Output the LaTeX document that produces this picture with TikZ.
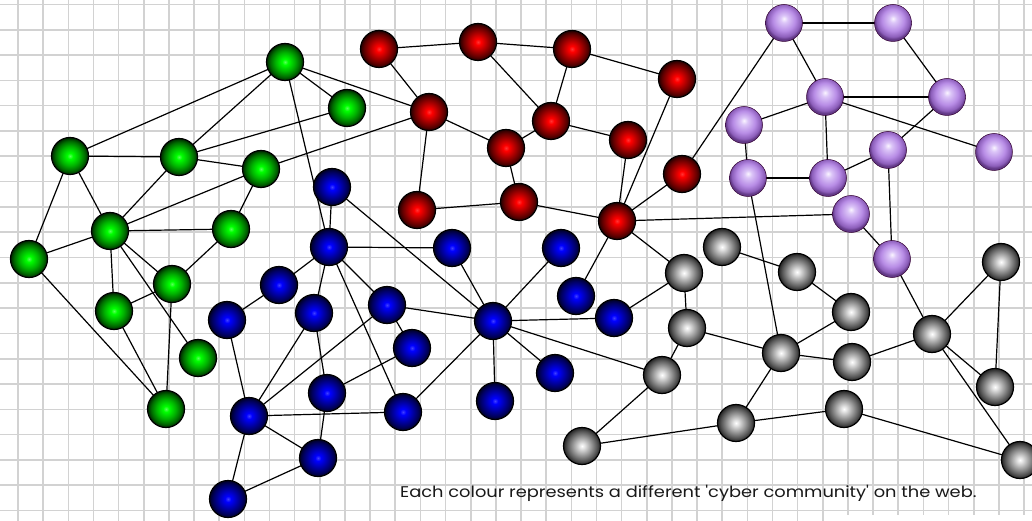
\documentclass[tikz,border=0pt]{standalone}
\usepackage{fontspec}
\usepackage{graphicx}
\newfontfamily\capfont{Poppins}[Ligatures=TeXOff]
\definecolor{gridc}{RGB}{210,210,210}
\pgfdeclareradialshading{gball}{\pgfpoint{0bp}{0bp}}{rgb(0bp)=(0.35,1,0.35);rgb(4bp)=(0,1,0);rgb(13bp)=(0,0.7,0);rgb(20bp)=(0,0.42,0);rgb(25bp)=(0,0.15,0);rgb(50bp)=(0,0.15,0)}
\pgfdeclareradialshading{rball}{\pgfpoint{0bp}{0bp}}{rgb(0bp)=(1,0.2,0.2);rgb(4bp)=(1,0,0);rgb(13bp)=(0.65,0,0);rgb(20bp)=(0.38,0,0);rgb(25bp)=(0.14,0,0);rgb(50bp)=(0.14,0,0)}
\pgfdeclareradialshading{bball}{\pgfpoint{0bp}{0bp}}{rgb(0bp)=(0.25,0.25,1);rgb(4bp)=(0,0,1);rgb(13bp)=(0,0,0.65);rgb(20bp)=(0,0,0.38);rgb(25bp)=(0,0,0.14);rgb(50bp)=(0,0,0.14)}
\pgfdeclareradialshading{yball}{\pgfpoint{0bp}{0bp}}{rgb(0bp)=(1,1,1);rgb(4bp)=(0.88,0.88,0.88);rgb(13bp)=(0.58,0.58,0.58);rgb(20bp)=(0.34,0.34,0.34);rgb(25bp)=(0.14,0.14,0.14);rgb(50bp)=(0.14,0.14,0.14)}
\pgfdeclareradialshading{pball}{\pgfpoint{0bp}{6bp}}{rgb(0bp)=(0.98,0.96,1);rgb(5bp)=(0.86,0.77,0.97);rgb(15bp)=(0.72,0.55,0.9);rgb(22bp)=(0.55,0.37,0.73);rgb(25bp)=(0.38,0.22,0.52);rgb(50bp)=(0.38,0.22,0.52)}
\pgfdeclarelayer{gridlayer}
\pgfdeclarelayer{edgelayer}
\pgfsetlayers{gridlayer,edgelayer,main}
\begin{document}
\begin{tikzpicture}[x=1pt,y=-1pt,
  ball/.style={circle,minimum size=37pt,inner sep=0pt,draw=black,line width=1.2pt},
  gn/.style={ball,shading=gball},
  rn/.style={ball,shading=rball},
  bn/.style={ball,shading=bball},
  yn/.style={ball,shading=yball},
  pn/.style={ball,shading=pball,draw=violet!40!black,line width=0.5pt},
  link/.style={draw=black,line width=1.2pt},
  gridline/.style={draw=gridc,line width=1.6pt}]
\useasboundingbox (0,0) rectangle (1032,521);
\begin{pgfonlayer}{gridlayer}
\fill[white] (0,0) rectangle (1032,521);
\foreach \i in {0,...,40} \draw[gridline] ({18+25.15*\i},0) -- ({18+25.15*\i},521);
\foreach \j in {0,...,20} \draw[gridline] (0,{4.5+25.3*\j}) -- (1032,{4.5+25.3*\j});
\fill[white] (836,512) rectangle (1032,521);
\foreach \i in {33,...,40} \draw[gridline] ({18+25.15*\i},511) -- ({18+25.15*\i},515);
\end{pgfonlayer}
% green
\node[gn] (G1) at (285,62) {};
\node[gn] (G2) at (347,108) {};
\node[gn] (G3) at (70,156) {};
\node[gn] (G4) at (179,157) {};
\node[gn] (G5) at (261,169) {};
\node[gn] (G6) at (110,231) {};
\node[gn] (G7) at (231,229) {};
\node[gn] (G8) at (29,259) {};
\node[gn] (G9) at (172,284) {};
\node[gn] (G10) at (114,311) {};
\node[gn] (G11) at (198,358) {};
\node[gn] (G12) at (166,409) {};
% red
\node[rn] (R1) at (379,49) {};
\node[rn] (R2) at (478,42) {};
\node[rn] (R3) at (572,49) {};
\node[rn] (R4) at (429,112) {};
\node[rn] (R5) at (677,79) {};
\node[rn] (R6) at (551,121) {};
\node[rn] (R7) at (506,148) {};
\node[rn] (R8) at (628,140) {};
\node[rn] (R9) at (682,174) {};
\node[rn] (R10) at (417,210) {};
\node[rn] (R11) at (519,202) {};
\node[rn] (R12) at (617,221) {};
% blue
\node[bn] (B1) at (332,187) {};
\node[bn] (B2) at (329,247) {};
\node[bn] (B3) at (452,248) {};
\node[bn] (B4) at (561,248) {};
\node[bn] (B5) at (279,285) {};
\node[bn] (B6) at (227,320) {};
\node[bn] (B7) at (314,313) {};
\node[bn] (B8) at (327,393) {};
\node[bn] (B9) at (249,416) {};
\node[bn] (B10) at (318,458) {};
\node[bn] (B11) at (228,499) {};
\node[bn] (B12) at (387,305) {};
\node[bn] (B13) at (412,348) {};
\node[bn] (B14) at (403,412) {};
\node[bn] (BH) at (493,321) {};
\node[bn] (B15) at (495,401) {};
\node[bn] (B16) at (555,373) {};
\node[bn] (B17) at (576,296) {};
\node[bn] (B18) at (614,318) {};
% purple
\node[pn] (P1) at (784,23) {};
\node[pn] (P2) at (893,23) {};
\node[pn] (P3) at (825,97) {};
\node[pn] (P4) at (947,97) {};
\node[pn] (P5) at (744,125) {};
\node[pn] (P6) at (888,150) {};
\node[pn] (P7) at (994,152) {};
\node[pn] (P8) at (748,178) {};
\node[pn] (P9) at (828,178) {};
\node[pn] (P10) at (851,214) {};
\node[pn] (P11) at (892,259) {};
% gray
\node[yn] (Y1) at (722,247) {};
\node[yn] (Y2) at (684,273) {};
\node[yn] (Y3) at (797,272) {};
\node[yn] (Y4) at (851,312) {};
\node[yn] (Y5) at (687,328) {};
\node[yn] (Y6) at (781,353) {};
\node[yn] (Y7) at (852,362) {};
\node[yn] (Y8) at (932,334) {};
\node[yn] (Y9) at (1001,262) {};
\node[yn] (Y10) at (995,387) {};
\node[yn] (Y11) at (844,409) {};
\node[yn] (Y12) at (736,423) {};
\node[yn] (Y13) at (1020,460) {};
\node[yn] (YA) at (662,375) {};
\node[yn] (YB) at (582,446) {};
% caption
\node[anchor=base west,inner sep=0pt,text=black!90,font=\capfont\fontsize{15.5}{18}\selectfont] (cap) at (400,497) {\scalebox{1.15}[1]{Each colour represents a different 'cyber community' on the web.}};
\begin{pgfonlayer}{edgelayer}
\foreach \a/\b in {G1/G3,G1/G4,G1/G2,G1/R4,G1/B2,G4/G2,G3/G4,G4/G5,G5/R4,G3/G6,G3/G8,G4/G6,G5/G6,G5/G7,G6/G7,G6/G8,G7/G9,G6/G9,G6/G10,G6/G11,G10/G9,G10/G12,G9/G12,G8/G12,
  B1/B2,B1/BH,B2/B3,B2/B5,B2/B7,B2/B14,B2/B12,B5/B6,B6/B9,B7/B9,B7/B8,B9/B12,B9/B14,B9/B10,B9/B11,B11/B10,B8/B10,B8/B13,B12/BH,B12/B13,B14/BH,BH/B3,BH/B4,BH/B15,BH/B16,BH/B18,BH/YA,B17/R12,B18/Y2,
  R1/R2,R2/R3,R3/R5,R1/R4,R2/R6,R3/R6,R4/R7,R4/R10,R6/R7,R6/R8,R7/R11,R10/R11,R11/R12,R8/R12,R5/R12,R9/R12,R12/P10,R12/Y2,R9/P1,
  P1/P2,P1/P3,P2/P4,P3/P4,P3/P5,P3/P9,P3/P7,P4/P6,P5/P8,P8/P9,P9/P6,P6/P11,P10/P11,P8/Y6,P11/Y8,
  Y1/Y3,Y2/Y5,Y5/Y6,Y5/YA,Y3/Y4,Y6/Y4,Y6/Y7,Y6/Y12,Y7/Y8,Y8/Y9,Y9/Y10,Y8/Y10,Y8/Y13,Y11/Y13,Y12/Y11,Y12/YB,YA/YB}
  \draw[link] (\a.center) -- (\b.center);
\end{pgfonlayer}
\end{tikzpicture}
\end{document}
